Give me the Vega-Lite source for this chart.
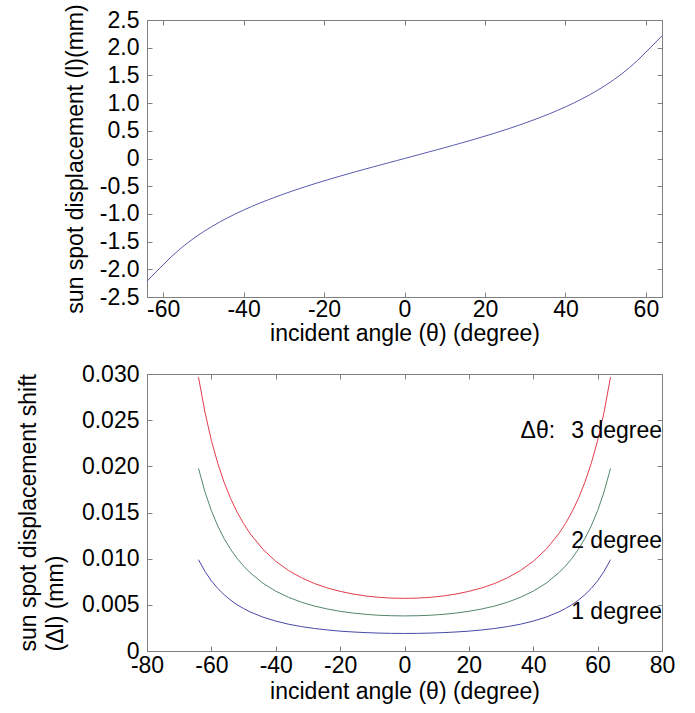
{
  "$schema": "https://vega.github.io/schema/vega-lite/v6.json",
  "padding": {"left": 16, "top": 3, "right": 5, "bottom": 5},
  "background": "white",
  "spacing": 16,
  "config": {
    "font": "Liberation Sans",
    "view": {"stroke": "#808080", "strokeWidth": 1},
    "axis": {
      "grid": false, "domain": false, "tickColor": "#808080", "tickSize": -5,
      "labelFontSize": 23, "titleFontSize": 23, "labelColor": "#000000", "titleColor": "#000000",
      "titleFontWeight": "normal", "labelFlush": false, "labelOverlap": false, "labelBound": false,
      "labelFont": "Liberation Sans", "titleFont": "Liberation Sans"
    }
  },
  "vconcat": [
    {
      "width": 515, "height": 277,
      "data": {"values": [
        {"a": -64, "l": -2.215}, {"a": -62, "l": -2.065}, {"a": -60, "l": -1.920}, {"a": -58, "l": -1.776},
        {"a": -56, "l": -1.646}, {"a": -54, "l": -1.528}, {"a": -52, "l": -1.421}, {"a": -50, "l": -1.323},
        {"a": -48, "l": -1.233}, {"a": -46, "l": -1.149}, {"a": -44, "l": -1.072}, {"a": -42, "l": -0.999},
        {"a": -40, "l": -0.931}, {"a": -38, "l": -0.867}, {"a": -36, "l": -0.806}, {"a": -34, "l": -0.749},
        {"a": -32, "l": -0.694}, {"a": -30, "l": -0.641}, {"a": -28, "l": -0.590}, {"a": -26, "l": -0.541},
        {"a": -24, "l": -0.494}, {"a": -22, "l": -0.448}, {"a": -20, "l": -0.404}, {"a": -18, "l": -0.361},
        {"a": -16, "l": -0.318}, {"a": -14, "l": -0.277}, {"a": -12, "l": -0.236}, {"a": -10, "l": -0.196},
        {"a": -8, "l": -0.156}, {"a": -6, "l": -0.117}, {"a": -4, "l": -0.078}, {"a": -2, "l": -0.039},
        {"a": 0, "l": 0},
        {"a": 2, "l": 0.039}, {"a": 4, "l": 0.078}, {"a": 6, "l": 0.117}, {"a": 8, "l": 0.156},
        {"a": 10, "l": 0.196}, {"a": 12, "l": 0.236}, {"a": 14, "l": 0.277}, {"a": 16, "l": 0.318},
        {"a": 18, "l": 0.361}, {"a": 20, "l": 0.404}, {"a": 22, "l": 0.448}, {"a": 24, "l": 0.494},
        {"a": 26, "l": 0.541}, {"a": 28, "l": 0.590}, {"a": 30, "l": 0.641}, {"a": 32, "l": 0.694},
        {"a": 34, "l": 0.749}, {"a": 36, "l": 0.806}, {"a": 38, "l": 0.867}, {"a": 40, "l": 0.931},
        {"a": 42, "l": 0.999}, {"a": 44, "l": 1.072}, {"a": 46, "l": 1.149}, {"a": 48, "l": 1.233},
        {"a": 50, "l": 1.323}, {"a": 52, "l": 1.421}, {"a": 54, "l": 1.528}, {"a": 56, "l": 1.646},
        {"a": 58, "l": 1.776}, {"a": 60, "l": 1.920}, {"a": 62, "l": 2.065}, {"a": 64, "l": 2.215}
      ]},
      "layer": [
        {
          "mark": {"type": "line", "color": "#5a5ab0", "strokeWidth": 1},
          "encoding": {
            "x": {"field": "a", "type": "quantitative",
              "scale": {"domain": [-64, 64], "nice": false, "zero": false},
              "axis": {"values": [-60, -40, -20, 0, 20, 40, 60], "title": "incident angle (θ) (degree)",
                "labelExpr": "datum.value + ''", "labelPadding": 6, "titlePadding": 1}},
            "y": {"field": "l", "type": "quantitative",
              "scale": {"domain": [-2.5, 2.5], "nice": false, "zero": false},
              "axis": {"values": [-2.5, -2, -1.5, -1, -0.5, 0, 0.5, 1, 1.5, 2, 2.5],
                "title": "sun spot displacement (l)(mm)",
                "labelExpr": "datum.value == 0 ? '0' : replace(format(datum.value, '.1f'), '−', '-')",
                "labelPadding": 13, "titlePadding": 12}}
          }
        },
        {
          "mark": {"type": "line", "opacity": 0},
          "encoding": {
            "x": {"field": "a", "type": "quantitative",
              "scale": {"domain": [-64, 64], "nice": false, "zero": false},
              "axis": {"orient": "top", "values": [-60, -40, -20, 0, 20, 40, 60], "labels": false, "title": null}},
            "y": {"field": "l", "type": "quantitative",
              "scale": {"domain": [-2.5, 2.5], "nice": false, "zero": false},
              "axis": {"orient": "right", "values": [-2.5, -2, -1.5, -1, -0.5, 0, 0.5, 1, 1.5, 2, 2.5], "labels": false, "title": null}}
          }
        }
      ],
      "resolve": {"axis": {"x": "independent", "y": "independent"}}
    },
    {
      "width": 515, "height": 277,
      "data": {"values": [
        {"a": -64, "s": "1", "v": 0.00989}, {"a": -62, "s": "1", "v": 0.00862}, {"a": -60, "s": "1", "v": 0.00760},
        {"a": -58, "s": "1", "v": 0.00677}, {"a": -56, "s": "1", "v": 0.00608}, {"a": -54, "s": "1", "v": 0.00550},
        {"a": -52, "s": "1", "v": 0.00501}, {"a": -50, "s": "1", "v": 0.00460}, {"a": -48, "s": "1", "v": 0.00424},
        {"a": -44, "s": "1", "v": 0.00367}, {"a": -40, "s": "1", "v": 0.00324}, {"a": -36, "s": "1", "v": 0.00290},
        {"a": -32, "s": "1", "v": 0.00264}, {"a": -28, "s": "1", "v": 0.00244}, {"a": -24, "s": "1", "v": 0.00228},
        {"a": -20, "s": "1", "v": 0.00215}, {"a": -16, "s": "1", "v": 0.00206}, {"a": -12, "s": "1", "v": 0.00199},
        {"a": -8, "s": "1", "v": 0.00194}, {"a": -4, "s": "1", "v": 0.00191}, {"a": 0, "s": "1", "v": 0.00190},
        {"a": 4, "s": "1", "v": 0.00191}, {"a": 8, "s": "1", "v": 0.00194}, {"a": 12, "s": "1", "v": 0.00199},
        {"a": 16, "s": "1", "v": 0.00206}, {"a": 20, "s": "1", "v": 0.00215}, {"a": 24, "s": "1", "v": 0.00228},
        {"a": 28, "s": "1", "v": 0.00244}, {"a": 32, "s": "1", "v": 0.00264}, {"a": 36, "s": "1", "v": 0.00290},
        {"a": 40, "s": "1", "v": 0.00324}, {"a": 44, "s": "1", "v": 0.00367}, {"a": 48, "s": "1", "v": 0.00424},
        {"a": 50, "s": "1", "v": 0.00460}, {"a": 52, "s": "1", "v": 0.00501}, {"a": 54, "s": "1", "v": 0.00550},
        {"a": 56, "s": "1", "v": 0.00608}, {"a": 58, "s": "1", "v": 0.00677}, {"a": 60, "s": "1", "v": 0.00760},
        {"a": 62, "s": "1", "v": 0.00862}, {"a": 64, "s": "1", "v": 0.00989},

        {"a": -64, "s": "2", "v": 0.01977}, {"a": -62, "s": "2", "v": 0.01724}, {"a": -60, "s": "2", "v": 0.01520},
        {"a": -58, "s": "2", "v": 0.01353}, {"a": -56, "s": "2", "v": 0.01215}, {"a": -54, "s": "2", "v": 0.01100},
        {"a": -52, "s": "2", "v": 0.01002}, {"a": -50, "s": "2", "v": 0.00920}, {"a": -48, "s": "2", "v": 0.00849},
        {"a": -44, "s": "2", "v": 0.00734}, {"a": -40, "s": "2", "v": 0.00648}, {"a": -36, "s": "2", "v": 0.00581},
        {"a": -32, "s": "2", "v": 0.00528}, {"a": -28, "s": "2", "v": 0.00487}, {"a": -24, "s": "2", "v": 0.00455},
        {"a": -20, "s": "2", "v": 0.00430}, {"a": -16, "s": "2", "v": 0.00411}, {"a": -12, "s": "2", "v": 0.00397},
        {"a": -8, "s": "2", "v": 0.00387}, {"a": -4, "s": "2", "v": 0.00382}, {"a": 0, "s": "2", "v": 0.00380},
        {"a": 4, "s": "2", "v": 0.00382}, {"a": 8, "s": "2", "v": 0.00387}, {"a": 12, "s": "2", "v": 0.00397},
        {"a": 16, "s": "2", "v": 0.00411}, {"a": 20, "s": "2", "v": 0.00430}, {"a": 24, "s": "2", "v": 0.00455},
        {"a": 28, "s": "2", "v": 0.00487}, {"a": 32, "s": "2", "v": 0.00528}, {"a": 36, "s": "2", "v": 0.00581},
        {"a": 40, "s": "2", "v": 0.00648}, {"a": 44, "s": "2", "v": 0.00734}, {"a": 48, "s": "2", "v": 0.00849},
        {"a": 50, "s": "2", "v": 0.00920}, {"a": 52, "s": "2", "v": 0.01002}, {"a": 54, "s": "2", "v": 0.01100},
        {"a": 56, "s": "2", "v": 0.01215}, {"a": 58, "s": "2", "v": 0.01353}, {"a": 60, "s": "2", "v": 0.01520},
        {"a": 62, "s": "2", "v": 0.01724}, {"a": 64, "s": "2", "v": 0.01977},

        {"a": -64, "s": "3", "v": 0.02966}, {"a": -62, "s": "3", "v": 0.02586}, {"a": -60, "s": "3", "v": 0.02280},
        {"a": -58, "s": "3", "v": 0.02030}, {"a": -56, "s": "3", "v": 0.01823}, {"a": -54, "s": "3", "v": 0.01650},
        {"a": -52, "s": "3", "v": 0.01504}, {"a": -50, "s": "3", "v": 0.01380}, {"a": -48, "s": "3", "v": 0.01273},
        {"a": -44, "s": "3", "v": 0.01102}, {"a": -40, "s": "3", "v": 0.00971}, {"a": -36, "s": "3", "v": 0.00871},
        {"a": -32, "s": "3", "v": 0.00793}, {"a": -28, "s": "3", "v": 0.00731}, {"a": -24, "s": "3", "v": 0.00683},
        {"a": -20, "s": "3", "v": 0.00646}, {"a": -16, "s": "3", "v": 0.00617}, {"a": -12, "s": "3", "v": 0.00596},
        {"a": -8, "s": "3", "v": 0.00581}, {"a": -4, "s": "3", "v": 0.00573}, {"a": 0, "s": "3", "v": 0.00570},
        {"a": 4, "s": "3", "v": 0.00573}, {"a": 8, "s": "3", "v": 0.00581}, {"a": 12, "s": "3", "v": 0.00596},
        {"a": 16, "s": "3", "v": 0.00617}, {"a": 20, "s": "3", "v": 0.00646}, {"a": 24, "s": "3", "v": 0.00683},
        {"a": 28, "s": "3", "v": 0.00731}, {"a": 32, "s": "3", "v": 0.00793}, {"a": 36, "s": "3", "v": 0.00871},
        {"a": 40, "s": "3", "v": 0.00971}, {"a": 44, "s": "3", "v": 0.01102}, {"a": 48, "s": "3", "v": 0.01273},
        {"a": 50, "s": "3", "v": 0.01380}, {"a": 52, "s": "3", "v": 0.01504}, {"a": 54, "s": "3", "v": 0.01650},
        {"a": 56, "s": "3", "v": 0.01823}, {"a": 58, "s": "3", "v": 0.02030}, {"a": 60, "s": "3", "v": 0.02280},
        {"a": 62, "s": "3", "v": 0.02586}, {"a": 64, "s": "3", "v": 0.02966}
      ]},
      "layer": [
        {
          "mark": {"type": "line", "strokeWidth": 1},
          "encoding": {
            "x": {"field": "a", "type": "quantitative",
              "scale": {"domain": [-80, 80], "nice": false, "zero": false},
              "axis": {"values": [-80, -60, -40, -20, 0, 20, 40, 60, 80], "title": "incident angle (θ) (degree)",
                "labelExpr": "datum.value + ''", "labelPadding": 8, "titlePadding": 3}},
            "y": {"field": "v", "type": "quantitative",
              "scale": {"domain": [0, 0.03], "nice": false, "zero": false},
              "axis": {"values": [0, 0.005, 0.01, 0.015, 0.02, 0.025, 0.03],
                "title": ["sun spot displacement shift", "(Δl) (mm)"],
                "titleAnchor": "start", "titleAlign": "left", "titleLineHeight": 27,
                "labelExpr": "datum.value == 0 ? '0' : format(datum.value, '.3f')",
                "labelPadding": 13, "titlePadding": 14}},
            "color": {"field": "s", "type": "nominal",
              "scale": {"domain": ["1", "2", "3"], "range": ["#4848a8", "#558669", "#e23c4e"]},
              "legend": null}
          }
        },
        {
          "data": {"values": [
            {"a": 80, "v": 0.02383, "t": "Δθ:\u2002\u20093 degree"},
            {"a": 80, "v": 0.01195, "t": "2 degree"},
            {"a": 80, "v": 0.00419, "t": "1 degree"}
          ]},
          "mark": {"type": "text", "align": "right", "baseline": "middle", "fontSize": 23, "font": "Liberation Sans", "color": "#000000"},
          "encoding": {
            "x": {"field": "a", "type": "quantitative", "axis": null},
            "y": {"field": "v", "type": "quantitative", "axis": null},
            "text": {"field": "t"}
          }
        },
        {
          "mark": {"type": "line", "opacity": 0},
          "encoding": {
            "x": {"field": "a", "type": "quantitative",
              "scale": {"domain": [-80, 80], "nice": false, "zero": false},
              "axis": {"orient": "top", "values": [-80, -60, -40, -20, 0, 20, 40, 60, 80], "labels": false, "title": null}},
            "y": {"field": "v", "type": "quantitative",
              "scale": {"domain": [0, 0.03], "nice": false, "zero": false},
              "axis": {"orient": "right", "values": [0, 0.005, 0.01, 0.015, 0.02, 0.025, 0.03], "labels": false, "title": null}}
          }
        }
      ],
      "resolve": {"axis": {"x": "independent", "y": "independent"}}
    }
  ]
}
